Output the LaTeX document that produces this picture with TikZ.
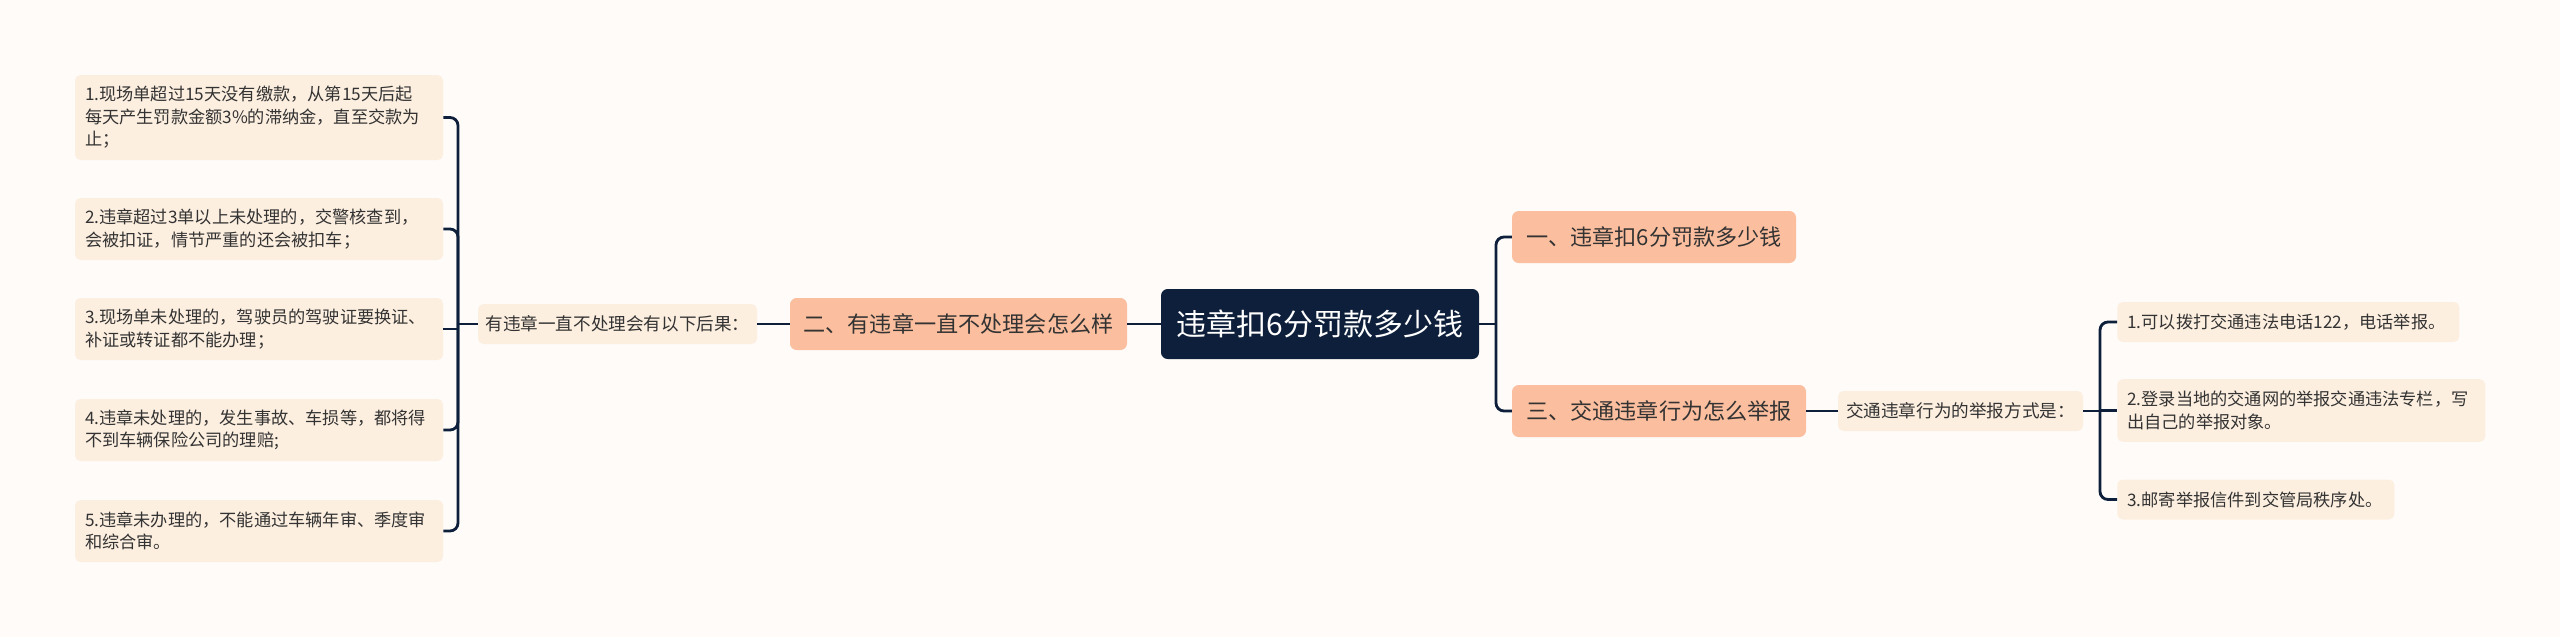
\documentclass[tikz,border=0pt]{standalone}
\usepackage{fontspec}
\setmainfont{Noto Sans CJK SC}
\definecolor{bgc}{HTML}{FFFBF8}
\definecolor{navy}{HTML}{0D1F3A}
\definecolor{leafc}{HTML}{FDEFE0}
\definecolor{branchc}{HTML}{FBBE9E}
\definecolor{txt}{HTML}{333333}
\tikzset{
  box/.style={rounded corners=5pt, inner sep=0pt, anchor=center},
  rootbox/.style={box, fill=navy, text=white, font=\fontsize{22.5pt}{27pt}\selectfont},
  branchbox/.style={box, fill=branchc, text=txt, font=\fontsize{16.6pt}{20pt}\selectfont, minimum height=39pt},
  subbox/.style={box, rounded corners=4pt, fill=leafc, text=txt, font=\fontsize{13.2pt}{16.9pt}\selectfont, minimum height=30pt},
  leafbox/.style={box, rounded corners=4pt, inner xsep=7.5pt, fill=leafc, text=txt, align=left, font=\fontsize{12.9pt}{16.9pt}\selectfont},
  conn/.style={draw=navy, line width=2.1pt},
  rconn/.style={conn, rounded corners=6pt}
}
\begin{document}
\begin{tikzpicture}[x=0.75pt,y=-0.75pt]
\fill[bgc] (0,0) rectangle (2560,637);
\useasboundingbox (0,0) rectangle (2560,637);

% root and branches
\node[rootbox, minimum width=238.5pt, minimum height=52.5pt] (root) at (1320,324) {违章扣6分罚款多少钱};
\node[branchbox, minimum width=252.75pt] (b2) at (958.5,324) {二、有违章一直不处理会怎么样};
\node[branchbox, minimum width=213pt] (b1) at (1654,237) {一、违章扣6分罚款多少钱};
\node[branchbox, minimum width=220.5pt] (b3) at (1659,411) {三、交通违章行为怎么举报};

% sub nodes
\node[subbox, minimum width=209.25pt] (sl) at (617.5,324) {有违章一直不处理会有以下后果：};
\node[subbox, minimum width=183.75pt] (sr) at (1960.5,411) {交通违章行为的举报方式是：};

% left leaves
\node[leafbox, text width=261pt, minimum height=63.75pt] (l1) at (259,117.5) {1.现场单超过15天没有缴款，从第15天后起\\每天产生罚款金额3\%的滞纳金，直至交款为\\止；};
\node[leafbox, text width=261pt, minimum height=46.5pt] (l2) at (259,229) {2.违章超过3单以上未处理的，交警核查到，\\会被扣证，情节严重的还会被扣车；};
\node[leafbox, text width=261pt, minimum height=46.5pt] (l3) at (259,329) {3.现场单未处理的，驾驶员的驾驶证要换证、\\补证或转证都不能办理；};
\node[leafbox, text width=261pt, minimum height=46.5pt] (l4) at (259,430) {4.违章未处理的，发生事故、车损等，都将得\\不到车辆保险公司的理赔;};
\node[leafbox, text width=261pt, minimum height=46.5pt] (l5) at (259,531) {5.违章未办理的，不能通过车辆年审、季度审\\和综合审。};

% right leaves
\node[leafbox, text width=241.5pt, minimum height=30pt, anchor=west] (r1) at (2117,322) {1.可以拨打交通违法电话122，电话举报。};
\node[leafbox, text width=261pt, minimum height=47pt, anchor=west] (r2) at (2117,410.5) {2.登录当地的交通网的举报交通违法专栏，写\\出自己的举报对象。};
\node[leafbox, text width=192.75pt, minimum height=30pt, anchor=west] (r3) at (2117,499.5) {3.邮寄举报信件到交管局秩序处。};

% junctions
\coordinate (jl) at (458,324);
\coordinate (jr) at (1496,324);
\coordinate (jr2) at (2100,411);

% connectors
\draw[conn] (root.west) -- (b2.east);
\draw[conn] (b2.west) -- (sl.east);
\draw[conn] (sl.west) -- (jl);
\draw[rconn] (jl) |- (l1.east);
\draw[rconn] (jl) |- (l2.east);
\draw[conn] (jl) |- (l3.east);
\draw[rconn] (jl) |- (l4.east);
\draw[rconn] (jl) |- (l5.east);

\draw[conn] (root.east) -- (jr);
\draw[rconn] (jr) |- (b1.west);
\draw[rconn] (jr) |- (b3.west);
\draw[conn] (b3.east) -- (sr.west);
\draw[conn] (sr.east) -- (jr2);
\draw[rconn] (jr2) |- (r1.west);
\draw[conn] (jr2) |- (r2.west);
\draw[rconn] (jr2) |- (r3.west);
\end{tikzpicture}
\end{document}
